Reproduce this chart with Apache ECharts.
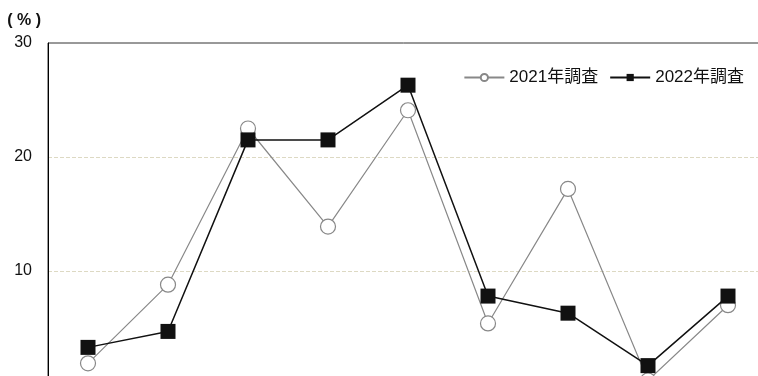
<!DOCTYPE html>
<html>
<head>
<meta charset="utf-8">
<script src="https://cdn.jsdelivr.net/npm/echarts@6/dist/echarts.min.js"></script>
<style>
html, body { margin: 0; padding: 0; background: #fff; }
#main { width: 758px; height: 376px; }
</style>
</head>
<body>
<div id="main"></div>
<script>
var myChart = echarts.init(document.getElementById('main'));

var categories = ['1', '2', '3', '4', '5', '6', '7', '8', '9'];
var data2021 = [1.9, 8.8, 22.5, 13.9, 24.1, 5.4, 17.2, 0.4, 7.0];
var data2022 = [3.3, 4.7, 21.5, 21.5, 26.3, 7.8, 6.3, 1.7, 7.8];
var yTicks = [0, 10, 20, 30];

var font = "'Liberation Sans', 'Noto Sans CJK JP', sans-serif";

var option = {
    animation: false,
    textStyle: { fontFamily: font },
    grid: {
        left: 48,
        top: 43,
        width: 720,
        height: 342,
        outerBoundsMode: 'none',
        containLabel: false,
        show: true,
        borderColor: '#333',
        borderWidth: 1
    },
    legend: {
        top: 64,
        right: 9,
        itemWidth: 40,
        itemHeight: 9,
        itemGap: 11,
        textStyle: { fontSize: 17, color: '#111', fontFamily: font },
        data: ['2021年調査', '2022年調査']
    },
    xAxis: {
        type: 'category',
        data: categories,
        boundaryGap: true,
        axisLine: { show: false },
        axisTick: { show: false },
        axisLabel: { show: false }
    },
    yAxis: {
        type: 'value',
        min: yTicks[0],
        max: yTicks[yTicks.length - 1],
        interval: 10,
        name: '( % )',
        nameLocation: 'end',
        nameGap: 14,
        nameTextStyle: {
            fontSize: 16, color: '#111', align: 'right', fontWeight: 'bold',
            padding: [0, 7, 0, 0]
        },
        axisLine: { show: true, lineStyle: { color: '#000', width: 1 } },
        axisTick: { show: false },
        axisLabel: {
            fontSize: 16,
            color: '#111',
            margin: 16,
            formatter: function (v) { return v === 0 ? '' : v; }
        },
        splitLine: {
            show: true,
            lineStyle: {
                type: 'dashed',
                color: ['transparent', '#ddd9c3', '#ddd9c3', 'transparent']
            }
        }
    },
    series: [
        {
            name: '2021年調査',
            type: 'line',
            data: data2021,
            symbol: 'circle',
            symbolSize: 15,
            itemStyle: { color: '#fff', borderColor: '#888', borderWidth: 1.2 },
            lineStyle: { color: '#888', width: 1.2 },
            z: 2
        },
        {
            name: '2022年調査',
            type: 'line',
            data: data2022,
            symbol: 'rect',
            symbolSize: 15,
            itemStyle: { color: '#111', borderColor: '#111', borderWidth: 0 },
            lineStyle: { color: '#111', width: 1.5 },
            z: 3
        }
    ]
};
myChart.setOption(option);
</script>
</body>
</html>
